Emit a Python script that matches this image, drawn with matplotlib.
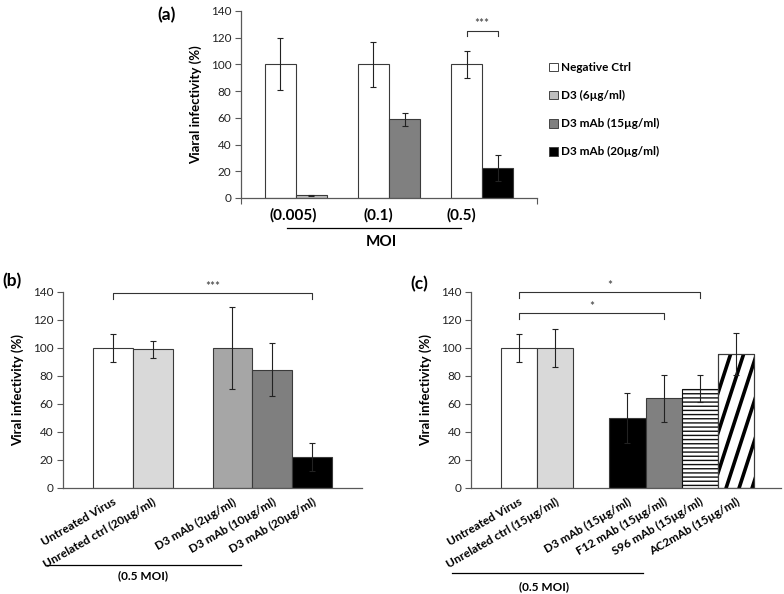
import numpy as np
import matplotlib
matplotlib.use("Agg")
import matplotlib.pyplot as plt
from matplotlib.patches import Patch
from matplotlib.lines import Line2D

plt.rcParams['font.family'] = ['Lato', 'DejaVu Sans']

# ---------------- data ----------------
# Panel (a)
a_groups = ["(0.005)", "(0.1)", "(0.5)"]
a_ctrl = [100, 100, 100]
a_ctrl_err = [19.5, 17, 10]
a_treat = [2, 59, 22.5]
a_treat_err = [0.5, 5, 9.5]
a_series = ["Negative Ctrl", "D3 (6µg/ml)", "D3 mAb (15µg/ml)", "D3 mAb (20µg/ml)"]
a_colors = ["#ffffff", "#bfbfbf", "#808080", "#000000"]
a_label_shift = [-0.03, -0.11, -0.22]

# Panel (b)
b_labels = ["Untreated Virus", "Unrelated ctrl (20µg/ml)", "D3 mAb (2µg/ml)",
            "D3 mAb (10µg/ml)", "D3 mAb (20µg/ml)"]
b_pos = [0, 1, 3, 4, 5]
b_vals = [100, 99, 100, 84.5, 22]
b_err = [10, 6, 29, 19, 10]
b_colors = ["#ffffff", "#d9d9d9", "#a6a6a6", "#7f7f7f", "#000000"]

# Panel (c)
c_labels = ["Untreated Virus", "Unrelated ctrl (15µg/ml)", "D3 mAb (15µg/ml)",
            "F12 mAb (15µg/ml)", "S96 mAb (15µg/ml)", "AC2mAb (15µg/ml)"]
c_pos = [0, 1, 3, 4, 5, 6]
c_vals = [100, 100, 50, 64, 71, 96]
c_err = [10, 13.5, 18, 16.5, 9.5, 15]
c_colors = ["#ffffff", "#d9d9d9", "#000000", "#808080", "#ffffff", "#ffffff"]

edge = "#3a3a3a"
spine_c = "#595959"

fig = plt.figure(figsize=(7.84, 5.94), dpi=100)
W, H = 784, 594


def px_axes(x0, x1, ytop, ybot):
    return fig.add_axes([x0 / W, 1 - ybot / H, (x1 - x0) / W, (ybot - ytop) / H])


def style(ax, ylab):
    ax.set_ylim(0, 140)
    ax.set_yticks(np.arange(0, 141, 20))
    for s in ["top", "right"]:
        ax.spines[s].set_visible(False)
    ax.spines["left"].set_color(spine_c)
    ax.spines["bottom"].set_color(spine_c)
    ax.spines["left"].set_linewidth(0.9)
    ax.spines["bottom"].set_linewidth(0.9)
    ax.tick_params(axis="y", direction="out", length=4, width=0.8, color=spine_c,
                   labelsize=8.5, pad=3, labelcolor="#222222")
    ax.set_ylabel(ylab, fontsize=9.5, fontweight="bold", labelpad=6)


def bracket(ax, x0, x1, y, drop, txt, ty):
    ax.plot([x0, x0, x1, x1], [y - drop, y, y, y - drop], color="#333333", lw=0.8,
            clip_on=False)
    ax.text((x0 + x1) / 2, ty, txt, ha="center", va="bottom", fontsize=8.5,
            color="#333333", clip_on=False)


# ---------------- panel (a) ----------------
axa = px_axes(241, 537, 11, 198)
style(axa, "Viaral infectivity (%)")
w = 1 / 3
xg = np.arange(len(a_groups))
axa.bar(xg - w / 2, a_ctrl, width=w, color=a_colors[0], edgecolor=edge, linewidth=0.8,
        zorder=2)
axa.bar(xg + w / 2, a_treat, width=w, color=a_colors[1:], edgecolor=edge, linewidth=0.8,
        zorder=2)
axa.errorbar(xg - w / 2, a_ctrl, yerr=a_ctrl_err, fmt="none", ecolor="#222222",
             elinewidth=0.8, capsize=2.5, capthick=0.8, zorder=3)
axa.errorbar(xg + w / 2, a_treat, yerr=a_treat_err, fmt="none", ecolor="#222222",
             elinewidth=0.8, capsize=2.5, capthick=0.8, zorder=3)
axa.set_xlim(-0.59, 2.59)
axa.set_xticks([axa.get_xlim()[0], axa.get_xlim()[1]])
axa.set_xticklabels(["", ""])
axa.tick_params(axis="x", direction="out", length=4, color=spine_c)
for i, g in enumerate(a_groups):
    axa.text(xg[i] + a_label_shift[i], -13, g, ha="center", va="center",
             fontsize=11, fontweight="bold", clip_on=False)
bracket(axa, 2 - w / 2, 2 + w / 2, 125, 4, "***", 126.5)
fig.add_artist(Line2D([287 / W, 461 / W], [1 - 228 / H, 1 - 228 / H], color="black",
                      lw=0.9))
fig.text(381 / W, 1 - 242 / H, "MOI", ha="center", va="center", fontsize=11,
         fontweight="bold")
fig.text(167 / W, 1 - 15 / H, "(a)", ha="center", va="center", fontsize=12.5,
         fontweight="bold")

handles = [Patch(facecolor=c, edgecolor="#444444", linewidth=0.7) for c in a_colors]
leg = fig.legend(handles, a_series, loc="upper left",
                 bbox_to_anchor=(549 / W, 1 - 62 / H), frameon=False,
                 prop={"size": 8.5, "weight": "bold"}, handlelength=0.75,
                 handleheight=0.75, handletextpad=0.25, labelspacing=1.45,
                 borderpad=0, borderaxespad=0)

# ---------------- panel (b) ----------------
axb = px_axes(63, 362, 292, 488)
style(axb, "Viral infectivity (%)")
axb.bar(b_pos, b_vals, width=1, color=b_colors, edgecolor=edge, linewidth=0.8, zorder=2)
axb.errorbar(b_pos, b_vals, yerr=b_err, fmt="none", ecolor="#222222", elinewidth=0.8,
             capsize=2.5, capthick=0.8, zorder=3)
axb.set_xlim(-1.25, 6.25)
axb.set_xticks(b_pos)
axb.set_xticklabels(b_labels, rotation=30, ha="right", rotation_mode="anchor",
                    fontsize=8.5, fontweight="bold")
axb.tick_params(axis="x", length=0, pad=6)
bracket(axb, 0, 5, 139, 4, "***", 140)
fig.add_artist(Line2D([47 / W, 241 / W], [1 - 565 / H, 1 - 565 / H], color="black",
                      lw=0.9))
fig.text(143 / W, 1 - 576 / H, "(0.5 MOI)", ha="center", va="center", fontsize=8.5,
         fontweight="bold")
fig.text(12 / W, 1 - 281 / H, "(b)", ha="center", va="center", fontsize=12.5,
         fontweight="bold")

# ---------------- panel (c) ----------------
axc = px_axes(471, 781, 292, 488)
style(axc, "Viral infectivity (%)")
bars_c = axc.bar(c_pos, c_vals, width=1, color=c_colors, edgecolor=edge, linewidth=0.8,
                 zorder=2)
bars_c[4].set_hatch("----")
bars_c[4].set_edgecolor("#111111")
axc.set_xlim(-1.33, 7.25)

# steep thick diagonal stripes for the last bar (clipped to the bar)
bar = bars_c[5]
p0 = axc.transData.transform((0, 0))
p1 = axc.transData.transform((1, 1))
sx, sy = p1[0] - p0[0], p1[1] - p0[1]
ang = np.deg2rad(72)
run = (sy / sx) / np.tan(ang)  # x data units per y data unit
ytop = bar.get_height()
xl, xr = bar.get_x(), bar.get_x() + bar.get_width()
step = 13 / sx
for xb in np.arange(xl - run * ytop - step, xr + step, step):
    ln = Line2D([xb, xb + run * ytop], [0, ytop], color="black", lw=2.6, zorder=2.5)
    axc.add_line(ln)
    ln.set_clip_path(bar)
axc.bar([c_pos[5]], [c_vals[5]], width=1, color="none", edgecolor=edge, linewidth=0.8,
        zorder=2.6)

axc.errorbar(c_pos, c_vals, yerr=c_err, fmt="none", ecolor="#222222", elinewidth=0.8,
             capsize=2.5, capthick=0.8, zorder=3)
axc.set_xticks(c_pos)
axc.set_xticklabels(c_labels, rotation=30, ha="right", rotation_mode="anchor",
                    fontsize=8.5, fontweight="bold")
axc.tick_params(axis="x", length=0, pad=6)
bracket(axc, 0, 5, 140, 4, "*", 141)
bracket(axc, 0, 4, 125, 4, "*", 126)
fig.add_artist(Line2D([452 / W, 643 / W], [1 - 573 / H, 1 - 573 / H], color="black",
                      lw=0.9))
fig.text(544 / W, 1 - 587 / H, "(0.5 MOI)", ha="center", va="center", fontsize=8.5,
         fontweight="bold")
fig.text(419 / W, 1 - 284 / H, "(c)", ha="center", va="center", fontsize=12.5,
         fontweight="bold")

fig.savefig("out.png", dpi=100)
